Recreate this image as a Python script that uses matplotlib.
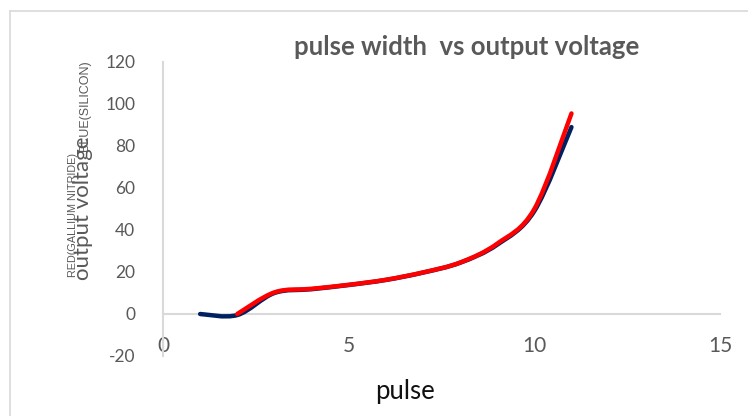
import numpy as np
import matplotlib
matplotlib.use("Agg")
import matplotlib.pyplot as plt
from matplotlib.path import Path
from matplotlib.patches import PathPatch
from matplotlib.lines import Line2D

# ---- data ----
pulse_blue = [1, 2, 3, 4, 5, 6, 7, 8, 9, 10, 11]
volt_blue = [0, -0.5, 10, 11.8, 13.8, 16.2, 19.7, 24.4, 33, 49, 89]
pulse_red = [2, 3, 4, 5, 6, 7, 8, 9, 10, 11]
volt_red = [0, 10.3, 12, 13.9, 16.3, 19.8, 24.5, 33.5, 50, 95.5]
x_ticks = [0, 5, 10, 15]
y_ticks = [-20, 0, 20, 40, 60, 80, 100, 120]

title = "pulse width  vs output voltage"
xlabel = "pulse"
ylabel = "output voltage"
note_red = "RED(GALLIUM NITRIDE)"
note_blue = "BLUE(SILICON)"

GRAY = "#595959"
AXC = "#d9d9d9"

W, H = 748, 416
fig = plt.figure(figsize=(W / 100, H / 100), dpi=100)
ax = fig.add_axes([163 / W, 1 - 356 / H, (720 - 163) / W, (356 - 62) / H])


def smooth_path(xs, ys):
    pts = np.column_stack([xs, ys]).astype(float)
    n = len(pts)
    verts = [pts[0]]
    codes = [Path.MOVETO]
    for i in range(n - 1):
        p0 = pts[i - 1] if i > 0 else pts[i]
        p1 = pts[i]
        p2 = pts[i + 1]
        p3 = pts[i + 2] if i + 2 < n else pts[i + 1]
        c1 = p1 + (p2 - p0) / 6.0
        c2 = p2 - (p3 - p1) / 6.0
        verts += [c1, c2, p2]
        codes += [Path.CURVE4] * 3
    return Path(verts, codes)


for xs, ys, col, z in [(pulse_blue, volt_blue, "#002060", 3), (pulse_red, volt_red, "#ff0000", 4)]:
    patch = PathPatch(smooth_path(xs, ys), facecolor="none", edgecolor=col,
                      lw=3.2, transform=ax.transData, zorder=z, capstyle="round",
                      joinstyle="round")
    ax.add_patch(patch)

ax.set_xlim(0, 15)
ax.set_ylim(-20, 120)
ax.set_xticks(x_ticks)
ax.set_yticks(y_ticks)
ax.set_xticklabels([str(v) for v in x_ticks])
ax.set_yticklabels([str(v) for v in y_ticks])

for s in ["top", "right"]:
    ax.spines[s].set_visible(False)
ax.spines["bottom"].set_position(("data", 0))
ax.spines["bottom"].set_color(AXC)
ax.spines["bottom"].set_linewidth(1.5)
ax.spines["left"].set_color(AXC)
ax.spines["left"].set_linewidth(1.5)
ax.tick_params(axis="both", length=0, labelcolor=GRAY)
ax.tick_params(axis="x", pad=16, labelsize=15)
ax.tick_params(axis="y", pad=20, labelsize=12.5)
for lbl in ax.get_xticklabels() + ax.get_yticklabels():
    lbl.set_fontfamily("Lato")

fig.text(467 / W, 1 - 47 / H, title, ha="center", va="center",
         fontsize=18.5, fontweight="bold", color=GRAY, family="Lato")
fig.text(405 / W, 1 - 391 / H, xlabel, ha="center", va="center",
         fontsize=18.5, color="#111111", family="Lato")
fig.text(83 / W, 1 - 208 / H, ylabel, ha="center", va="center", rotation=90,
         fontsize=16, color=GRAY, family="Lato")
fig.text(73 / W, 1 - 215 / H, note_red, ha="center", va="center", rotation=90,
         fontsize=7.8, color=GRAY, family="Liberation Sans")
fig.text(85 / W, 1 - 106 / H, note_blue, ha="center", va="center", rotation=90,
         fontsize=9, color=GRAY, family="Liberation Sans")

# chart border (top and left edges visible)
fig.add_artist(Line2D([10 / W, 1], [1 - 11 / H, 1 - 11 / H], color=AXC, lw=1.2,
                      transform=fig.transFigure))
fig.add_artist(Line2D([10 / W, 10 / W], [0, 1 - 11 / H], color=AXC, lw=1.2,
                      transform=fig.transFigure))

fig.savefig("out.png", dpi=100, facecolor="white")
